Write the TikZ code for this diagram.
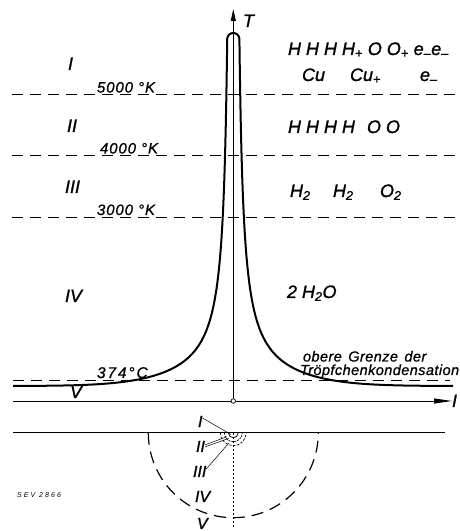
\documentclass[tikz,border=0pt]{standalone}
\usepackage{fontspec}
\setmainfont{Liberation Sans}
\usetikzlibrary{arrows.meta}
\begin{document}
\begin{tikzpicture}[x=1pt,y=1pt,
  txt/.style={anchor=base west, inner sep=0pt, outer sep=0pt},
  bigf/.style={txt, font=\itshape\fontsize{18}{18}\selectfont\addfontfeature{FakeBold=1.2}},
  romf/.style={txt, font=\itshape\fontsize{18}{18}\selectfont\addfontfeature{FakeBold=1.2}},
  romsmall/.style={txt, font=\itshape\fontsize{16}{16}\selectfont\addfontfeature{FakeBold=1.2}},
  tempf/.style={txt, font=\itshape\fontsize{15}{15}\selectfont\addfontfeature{LetterSpace=6,FakeBold=0.8}},
  tempc/.style={txt, font=\itshape\fontsize{15.5}{15.5}\selectfont\addfontfeature{LetterSpace=12,FakeBold=0.8}},
  notef/.style={txt, font=\itshape\fontsize{14.5}{14.5}\selectfont\addfontfeature{LetterSpace=3,FakeBold=0.8}},
  isotherm/.style={line width=1.2pt, dash pattern=on 11pt off 7pt},
  curve/.style={line width=2pt, line join=round},
  axis/.style={line width=0.9pt},
  leader/.style={line width=0.5pt},
  smallarc/.style={line width=0.7pt}
]
\useasboundingbox[fill=white] (0,0) rectangle (459,531);

% named points
\coordinate (O) at (233.3,130);
\coordinate (Ttip) at (233.3,522);
\coordinate (Ileft) at (13,130);
\coordinate (Itip) at (452,130);
\coordinate (C) at (233.3,98.3);
\coordinate (Lleft) at (13,98.3);
\coordinate (Lright) at (445,98.3);
\coordinate (Cbot) at (233.3,3);

% isotherms
\coordinate (a1) at (12,436.5); \coordinate (b1) at (455,436.5);
\coordinate (a2) at (12,375.5); \coordinate (b2) at (455,375.5);
\coordinate (a3) at (12,313.5); \coordinate (b3) at (455,313.5);
\coordinate (a4) at (13,150.5); \coordinate (b4) at (450,150.5);
\draw[isotherm] (a1) -- (b1);
\draw[isotherm] (a2) -- (b2);
\draw[isotherm] (a3) -- (b3);
\draw[isotherm] (a4) -- (b4);

% axes
\draw[axis, -{Triangle[length=12pt,width=5pt]}] (O) -- (Ttip);
\draw[axis, -{Triangle[length=18pt,width=5pt]}] (Ileft) -- (Itip);
\node[circle, draw, fill=white, line width=0.7pt, inner sep=0pt, minimum size=4.5pt] (Oc) at (O) {};

% temperature curve
\begin{scope}[shift={(233.3,0)}]
\draw[curve] plot[domain=5.394:1.808, samples=120, variable=\t]
   ({-exp(\t)}, {145 + 1500/(exp(\t)-1.8)*exp(-(exp(\t)/100)^2)})
   arc[start angle=180, end angle=0, radius=6.09]
   -- plot[domain=1.808:5.394, samples=120, variable=\t]
   ({exp(\t)}, {145 + 1500/(exp(\t)-1.8)*exp(-(exp(\t)/100)^2)});
\end{scope}

% axis labels
\node[bigf] (Tl) at (243,504) {T};
\node[bigf] (Il) at (452,124) {I};

% left region numerals
\node[romf] (r1) at (68,461) {I};
\node[romf] (r2) at (67,399) {II};
\node[romf] (r3) at (65,338) {III};
\node[romf] (r4) at (65,229) {IV};
\node[romf] (r5) at (70,133) {V};

% temperatures
\node[tempf] (t1) at (97,438.5) {5000 °K};
\node[tempf] (t2) at (100,377.5) {4000 °K};
\node[tempf] (t3) at (97,316) {3000 °K};
\node[tempc] (t4) at (97,153) {374°C};

% species
\node[bigf] (s1) at (288,476) {H H H H\textsubscript{+} O O\textsubscript{+} e\textsubscript{–}e\textsubscript{–}};
\node[bigf] (s2a) at (302,450) {Cu};
\node[bigf] (s2b) at (350,450) {Cu\textsubscript{+}};
\node[bigf] (s2c) at (420,450) {e\textsubscript{–}};
\node[bigf] (s3) at (288,398) {H H H H\hspace{7pt} O O};
\node[bigf] (s4a) at (290,334) {H\textsubscript{2}};
\node[bigf] (s4b) at (333,334) {H\textsubscript{2}};
\node[bigf] (s4c) at (380,334) {O\textsubscript{2}};
\node[bigf] (s5) at (287,233) {2 H\textsubscript{2}O};

% note
\node[notef] (n1) at (303,169.5) {obere\hspace{2pt} Grenze\hspace{2pt} der};
\node[notef] (n2) at (300,156) {Tröpfchenkondensation};

% lower cross-section
\draw[axis] (Lleft) -- (Lright);
\draw[line width=0.5pt, dash pattern=on 2pt off 2pt] (C) -- (Cbot);
\draw[isotherm, dash pattern=on 12pt off 7pt] (148.3,98.3) arc[start angle=180, end angle=360, radius=85];
\draw[smallarc] (228.3,98.3) arc[start angle=180, end angle=360, radius=5];
\draw[smallarc, dash pattern=on 2pt off 1pt] (224.3,98.3) arc[start angle=180, end angle=360, radius=9];
\draw[smallarc, dash pattern=on 2.5pt off 1.5pt] (220.3,98.3) arc[start angle=180, end angle=360, radius=13];

\node[romsmall] (q1) at (198,104) {I};
\node[romsmall] (q2) at (196,79) {II};
\node[romsmall] (q3) at (193,54) {III};
\node[romsmall] (q4) at (195,29) {IV};
\node[romsmall] (q5) at (197,2) {V};

\coordinate (e1) at (231,96.5);
\coordinate (e2a) at (227.0,94.3);
\coordinate (e2b) at (228.7,92.6);
\coordinate (e3) at (228.9,88.0);
\draw[leader] ([yshift=-2pt]q1.north east) -- (e1);
\draw[leader] ([yshift=-4pt]q2.north east) -- (e2a);
\draw[leader] ([yshift=-6pt]q2.north east) -- (e2b);
\draw[leader] ([yshift=-3pt]q3.north east) -- (e3);

\node[txt, font=\itshape\fontsize{7}{7}\selectfont\addfontfeature{LetterSpace=30}] (sev) at (17,33) {SEV 2866};
\end{tikzpicture}
\end{document}
